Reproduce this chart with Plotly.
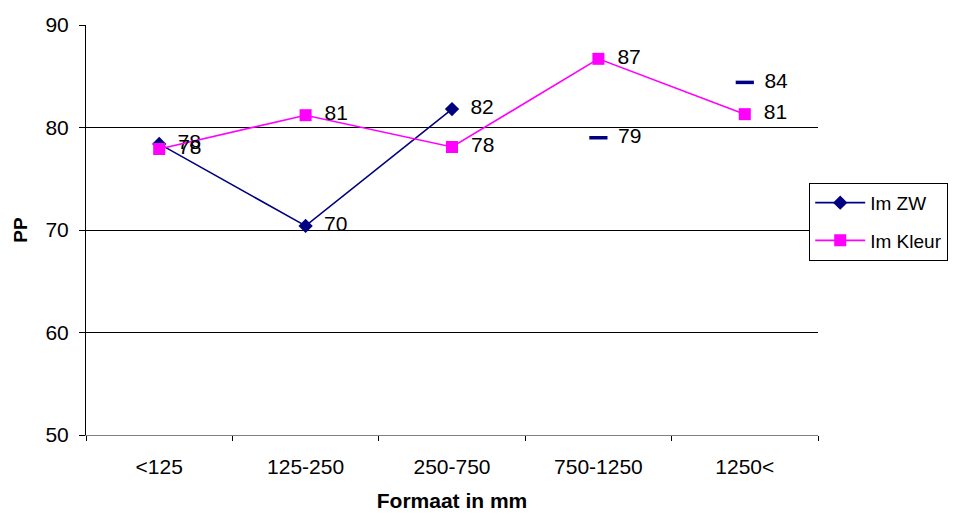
import plotly.graph_objects as go

categories = ["<125", "125-250", "250-750", "750-1250", "1250<"]
im_zw = [78.4, 70.4, 81.8, 79.0, 84.4]
im_kleur = [77.9, 81.2, 78.1, 86.7, 81.3]
y_ticks = [50, 60, 70, 80, 90]

NAVY = "#000080"
MAGENTA = "#FF00FF"
FONT = "Liberation Sans, Arial, sans-serif"
label_font = dict(family=FONT, size=21, color="black")


def labels(values):
    # leading spaces keep the value clear of the marker
    return [f"\u2002{v:.0f}" for v in values]


fig = go.Figure()

# Im ZW: connected part of the series
fig.add_trace(go.Scatter(
    x=categories[:3], y=im_zw[:3], name="Im ZW", legendgroup="zw",
    mode="lines+markers+text",
    line=dict(color=NAVY, width=1.6),
    marker=dict(symbol="diamond", size=11, color=NAVY),
    text=labels(im_zw[:3]),
    textposition="middle right", textfont=label_font,
    cliponaxis=False,
))
# Im ZW: remaining points shown as dashes without a line
fig.add_trace(go.Scatter(
    x=categories[3:], y=im_zw[3:], name="Im ZW", legendgroup="zw",
    mode="markers+text", showlegend=False,
    marker=dict(symbol="line-ew", size=13, line=dict(color=NAVY, width=3.5)),
    text=labels(im_zw[3:]),
    textposition="middle right", textfont=label_font,
    cliponaxis=False,
))
fig.add_trace(go.Scatter(
    x=categories, y=im_kleur, name="Im Kleur", legendgroup="kleur",
    mode="lines+markers+text",
    line=dict(color=MAGENTA, width=1.6),
    marker=dict(symbol="square", size=12, color=MAGENTA),
    text=labels(im_kleur),
    textposition="middle right", textfont=label_font,
    cliponaxis=False,
))

fig.update_layout(
    width=960, height=515,
    margin=dict(l=86, r=142, t=25, b=80, autoexpand=False),
    paper_bgcolor="white", plot_bgcolor="white",
    font=dict(family=FONT, size=21, color="black"),
    showlegend=True,
    legend=dict(
        x=0.988, y=0.52, xanchor="left", yanchor="middle",
        bordercolor="black", borderwidth=1, bgcolor="white",
        font=dict(family=FONT, size=19, color="black"),
        tracegroupgap=10, itemwidth=50,
    ),
    xaxis=dict(
        type="category", categoryorder="array", categoryarray=categories,
        range=[-0.5, 4.5], automargin=False,
        showline=True, linecolor="#808080", linewidth=1,
        ticks="outside", tickson="boundaries", ticklen=5, tickcolor="black",
        ticklabelstandoff=13,
        showgrid=False, zeroline=False,
        tickfont=dict(family=FONT, size=21),
        title=dict(text="<b>Formaat in mm</b>", font=dict(family=FONT, size=21), standoff=16),
    ),
    yaxis=dict(
        range=[50, 90], tickvals=y_ticks, automargin=False,
        showline=True, linecolor="black", linewidth=1,
        ticks="outside", ticklen=6, tickcolor="black",
        ticklabelstandoff=6,
        showgrid=True, gridcolor="black", gridwidth=1,
        zeroline=False,
        tickfont=dict(family=FONT, size=21),
        title=dict(text="<b>PP</b>", font=dict(family=FONT, size=19), standoff=12),
    ),
)

fig.write_html("out.html")
